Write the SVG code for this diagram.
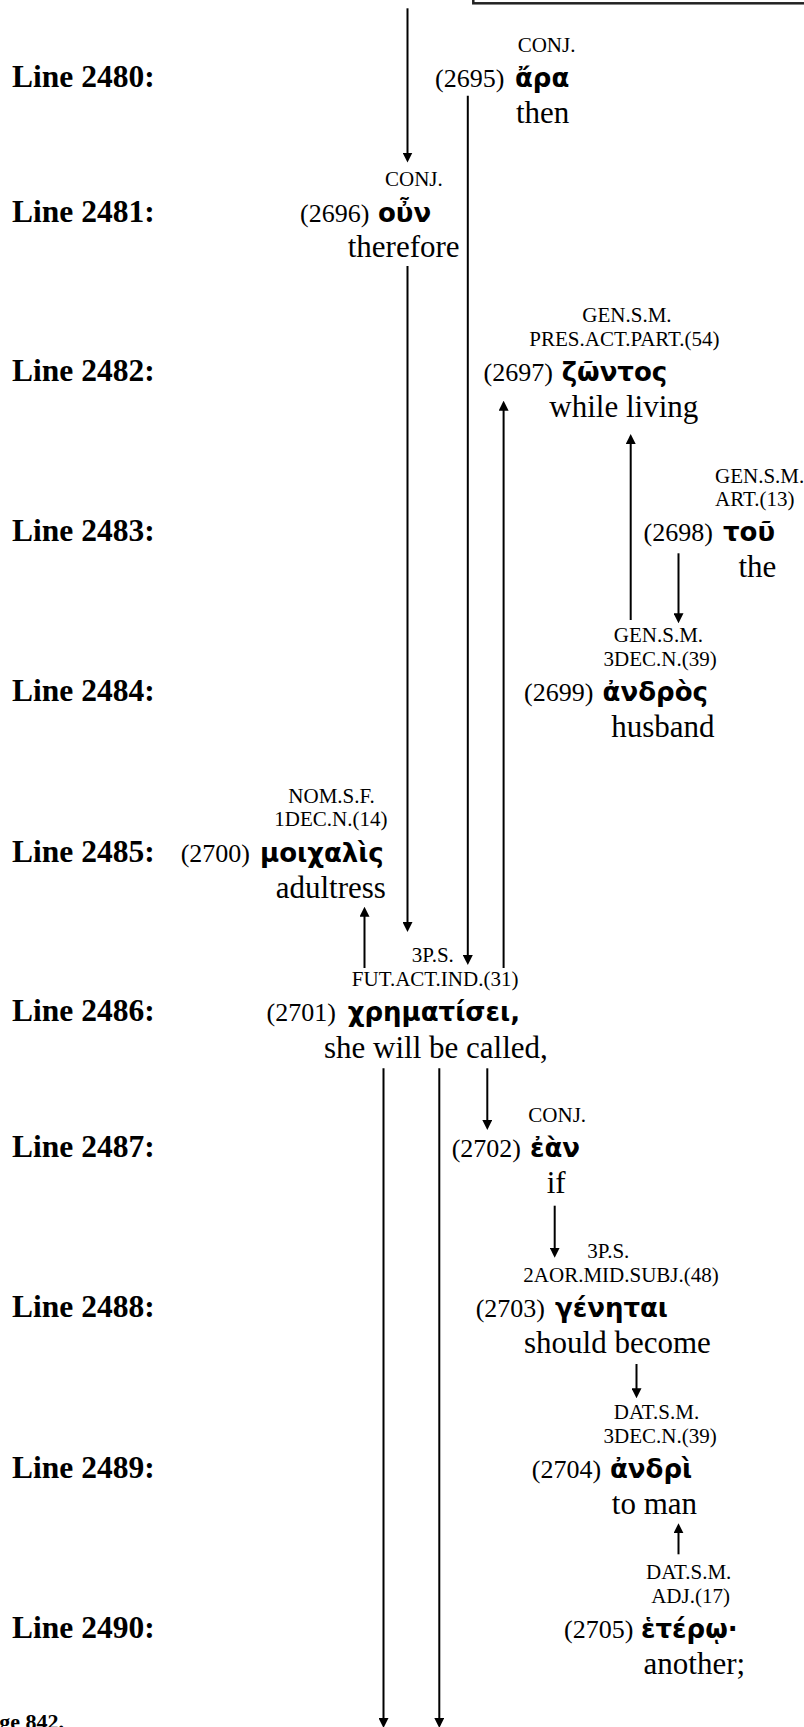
<svg xmlns="http://www.w3.org/2000/svg" width="804" height="1727" viewBox="0 0 804 1727">
<style>
.lbl{font-family:"Liberation Serif","Times New Roman",serif;font-weight:bold;font-size:31.5px;fill:#000}
.ann{font-family:"Liberation Serif","Times New Roman",serif;font-size:21px;fill:#000}
.num{font-family:"Liberation Serif","Times New Roman",serif;font-size:26px;fill:#000}
.grk{font-family:"DejaVu Sans","Noto Sans",sans-serif;font-weight:bold;font-size:26px;fill:#000}
.gls{font-family:"Liberation Serif","Times New Roman",serif;font-size:31px;fill:#000}
.ftr{font-family:"Liberation Serif","Times New Roman",serif;font-weight:bold;font-size:22px;fill:#000}
.con{stroke:#000;stroke-width:2;fill:none;marker-end:url(#ah)}
</style>
<defs>
<marker id="ah" markerUnits="userSpaceOnUse" markerWidth="10" markerHeight="10" refX="4" refY="5" orient="auto">
<path d="M0,0 L10,5 L0,10 z" fill="#000"/>
</marker>
</defs>
<rect width="804" height="1727" fill="#fff"/>
<rect id="topbox" x="473.3" y="-30" width="400" height="33.3" fill="none" stroke="#222" stroke-width="2.5"/>
<g id="line-labels">
<text class="lbl" x="12" y="86.7">Line 2480:</text>
<text class="lbl" x="12" y="221.7">Line 2481:</text>
<text class="lbl" x="12" y="381">Line 2482:</text>
<text class="lbl" x="12" y="541">Line 2483:</text>
<text class="lbl" x="12" y="700.7">Line 2484:</text>
<text class="lbl" x="12" y="861.5">Line 2485:</text>
<text class="lbl" x="12" y="1021">Line 2486:</text>
<text class="lbl" x="12" y="1157">Line 2487:</text>
<text class="lbl" x="12" y="1316.7">Line 2488:</text>
<text class="lbl" x="12" y="1477.7">Line 2489:</text>
<text class="lbl" x="12" y="1637.5">Line 2490:</text>
</g>
<g id="n2695">
<text class="ann" x="517.7" y="52">CONJ.</text>
<text class="num" x="435" y="87">(2695)</text>
<text class="grk" x="515" y="87">ἄρα</text>
<text class="gls" x="516" y="123">then</text>
</g>
<g id="n2696">
<text class="ann" x="385" y="186">CONJ.</text>
<text class="num" x="300" y="221.7">(2696)</text>
<text class="grk" x="378" y="221.7">οὖν</text>
<text class="gls" x="347.7" y="257">therefore</text>
</g>
<g id="n2697">
<text class="ann" x="582.3" y="322.3">GEN.S.M.</text>
<text class="ann" x="529.3" y="345.7">PRES.ACT.PART.(54)</text>
<text class="num" x="483.6" y="381">(2697)</text>
<text class="grk" x="561.7" y="381">ζῶντος</text>
<text class="gls" x="549.3" y="417">while living</text>
</g>
<g id="n2698">
<text class="ann" x="715" y="482.5">GEN.S.M.</text>
<text class="ann" x="715" y="506">ART.(13)</text>
<text class="num" x="643.6" y="541">(2698)</text>
<text class="grk" x="723" y="541">τοῦ</text>
<text class="gls" x="738.5" y="577">the</text>
</g>
<g id="n2699">
<text class="ann" x="613.8" y="642">GEN.S.M.</text>
<text class="ann" x="603.6" y="665.7">3DEC.N.(39)</text>
<text class="num" x="524" y="700.7">(2699)</text>
<text class="grk" x="602.6" y="700.7">ἀνδρὸς</text>
<text class="gls" x="611.3" y="736.7">husband</text>
</g>
<g id="n2700">
<text class="ann" x="288.3" y="802.5">NOM.S.F.</text>
<text class="ann" x="274.3" y="826">1DEC.N.(14)</text>
<text class="num" x="180.7" y="861.5">(2700)</text>
<text class="grk" x="260" y="861.5">μοιχαλὶς</text>
<text class="gls" x="275.7" y="898">adultress</text>
</g>
<g id="n2701">
<text class="ann" x="411.8" y="962.3">3P.S.</text>
<text class="ann" x="351.8" y="986">FUT.ACT.IND.(31)</text>
<text class="num" x="266.6" y="1021">(2701)</text>
<text class="grk" x="347.7" y="1021">χρηματίσει,</text>
<text class="gls" x="324" y="1057.5">she will be called,</text>
</g>
<g id="n2702">
<text class="ann" x="528.3" y="1122">CONJ.</text>
<text class="num" x="451.7" y="1157">(2702)</text>
<text class="grk" x="530" y="1157">ἐὰν</text>
<text class="gls" x="546.7" y="1193">if</text>
</g>
<g id="n2703">
<text class="ann" x="587.3" y="1258">3P.S.</text>
<text class="ann" x="523.3" y="1281.5">2AOR.MID.SUBJ.(48)</text>
<text class="num" x="475.7" y="1316.7">(2703)</text>
<text class="grk" x="555" y="1316.7">γένηται</text>
<text class="gls" x="524" y="1352.7">should become</text>
</g>
<g id="n2704">
<text class="ann" x="613.8" y="1419">DAT.S.M.</text>
<text class="ann" x="603.6" y="1442.5">3DEC.N.(39)</text>
<text class="num" x="531.8" y="1477.7">(2704)</text>
<text class="grk" x="610" y="1477.7">ἀνδρὶ</text>
<text class="gls" x="611.8" y="1513.7">to man</text>
</g>
<g id="n2705">
<text class="ann" x="646" y="1579">DAT.S.M.</text>
<text class="ann" x="651.2" y="1602.5">ADJ.(17)</text>
<text class="num" x="564" y="1637.5">(2705)</text>
<text class="grk" x="641" y="1637.5">ἑτέρῳ·</text>
<text class="gls" x="643.6" y="1673.5">another;</text>
</g>
<g id="footer">
<text class="ftr" x="64" y="1729" text-anchor="end">Page 842.</text>
</g>
<g id="connectors">
<path class="con" d="M407.5 8.3 V156.5"/>
<path class="con" d="M467.8 95.7 V959"/>
<path class="con" d="M407.5 266 V926"/>
<path class="con" d="M503.6 968 V406.7"/>
<path class="con" d="M630.7 620 V440"/>
<path class="con" d="M678.5 553.3 V617.3"/>
<path class="con" d="M364.5 968 V912.7"/>
<path class="con" d="M383.5 1068.3 V1722"/>
<path class="con" d="M439.3 1068.3 V1722"/>
<path class="con" d="M487.3 1068.3 V1124"/>
<path class="con" d="M554.7 1205.7 V1251.7"/>
<path class="con" d="M636.5 1364 V1392.3"/>
<path class="con" d="M678.5 1554.3 V1529.3"/>
</g>
</svg>
